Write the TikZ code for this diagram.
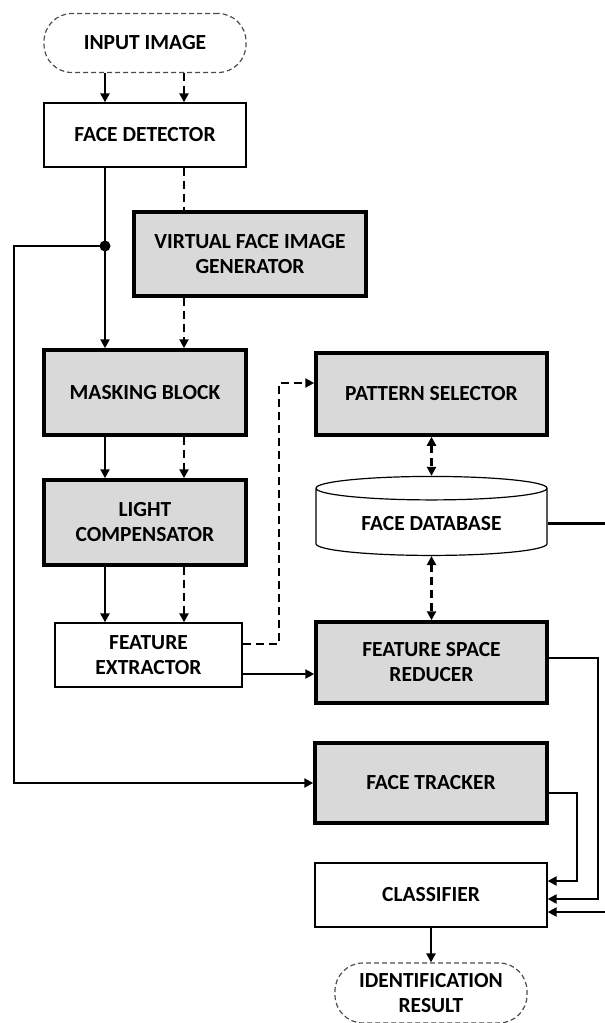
\documentclass[tikz,border=0pt]{standalone}
\usepackage{fontspec}
\setmainfont{Carlito}
\usetikzlibrary{arrows.meta,shapes.geometric}
\definecolor{boxgray}{HTML}{D9D9D9}
\tikzset{
  blk/.style={draw,line width=1.3pt,fill=white,align=center,inner sep=2pt},
  thick blk/.style={blk,line width=3.5pt,fill=boxgray},
  term/.style={draw=black!70,line width=1.2pt,dash pattern=on 5pt off 3pt,rounded corners=28pt,align=center},
  arr/.style={line width=2.2pt,>={Triangle[length=9pt,width=9pt]},->},
  dbl/.style={arr,<->},
  dsh/.style={line width=2.2pt,dash pattern=on 8pt off 5pt}
}
\begin{document}
\begin{tikzpicture}[x=1pt,y=-1pt,font=\fontsize{21.5}{25}\selectfont\bfseries]
\useasboundingbox (0,0) rectangle (605,1023);
\coordinate (ca) at (105,0);
\coordinate (cb) at (184,0);
\coordinate (lft) at (14,0);
\coordinate (split) at (105,246);
\node[term,minimum width=202pt,minimum height=59pt] (in) at (145,43) {INPUT IMAGE};
\node[blk,minimum width=202pt,minimum height=64pt] (det) at (145,135) {FACE DETECTOR};
\node[thick blk,minimum width=232pt,minimum height=84pt] (vfg) at (250,254) {VIRTUAL FACE IMAGE\\GENERATOR};
\node[thick blk,minimum width=202pt,minimum height=85pt] (mask) at (145,392.5) {MASKING BLOCK};
\node[thick blk,minimum width=202pt,minimum height=85pt] (light) at (145,522.5) {LIGHT\\COMPENSATOR};
\node[blk,minimum width=187pt,minimum height=64pt] (fext) at (148.5,655) {FEATURE\\EXTRACTOR};
\node[thick blk,minimum width=231pt,minimum height=82pt] (pat) at (431.5,394) {PATTERN SELECTOR};
\node[draw,cylinder,shape border rotate=90,aspect=0.16,line width=1.2pt,fill=white,minimum width=231pt,minimum height=79pt] (db) at (431.5,523.5) {FACE DATABASE};
\node[thick blk,minimum width=231pt,minimum height=81pt] (fsr) at (431.5,662.5) {FEATURE SPACE\\REDUCER};
\node[thick blk,minimum width=232pt,minimum height=80pt] (trk) at (431,783) {FACE TRACKER};
\node[blk,minimum width=232pt,minimum height=64pt] (cls) at (431,895) {CLASSIFIER};
\node[term,minimum width=192pt,minimum height=60pt] (res) at (431,993) {IDENTIFICATION\\RESULT};

\draw[arr] (in.south -| ca) -- (det.north -| ca);
\draw[arr,dsh] (in.south -| cb) -- (det.north -| cb);
\draw[arr] (det.south -| ca) -- (mask.north -| ca);
\fill (split) circle (5.5pt);
\draw[arr] (split) -- (split -| lft) |- (trk.west);
\draw[dsh] (det.south -| cb) -- (vfg.north -| cb);
\draw[arr,dsh] (vfg.south -| cb) -- (mask.north -| cb);
\draw[arr] (mask.south -| ca) -- (light.north -| ca);
\draw[arr,dsh] (mask.south -| cb) -- (light.north -| cb);
\draw[arr] (light.south -| ca) -- (fext.north -| ca);
\draw[arr,dsh] (light.south -| cb) -- (fext.north -| cb);
\draw[arr,dsh] ([yshift=11pt]fext.east) -- ++(36,0) |- ([yshift=11pt]pat.west);
\draw[arr] ([yshift=-19pt]fext.east) -- ([yshift=-19pt]fext.east -| fsr.west);
\draw[dbl,dsh] (pat.south) -- (db.north);
\draw[dbl,dsh] (db.south) -- (fsr.north);
\draw[arr] (db.east) -- ++(62,0) |- ([yshift=-17pt]cls.east);
\draw[arr] ([yshift=4.5pt]fsr.east) -- ++(49,0) |- ([yshift=-4pt]cls.east);
\draw[arr] ([yshift=-10pt]trk.east) -- ++(28,0) |- ([yshift=14pt]cls.east);
\draw[arr] (cls.south) -- (res.north);
\end{tikzpicture}
\end{document}
